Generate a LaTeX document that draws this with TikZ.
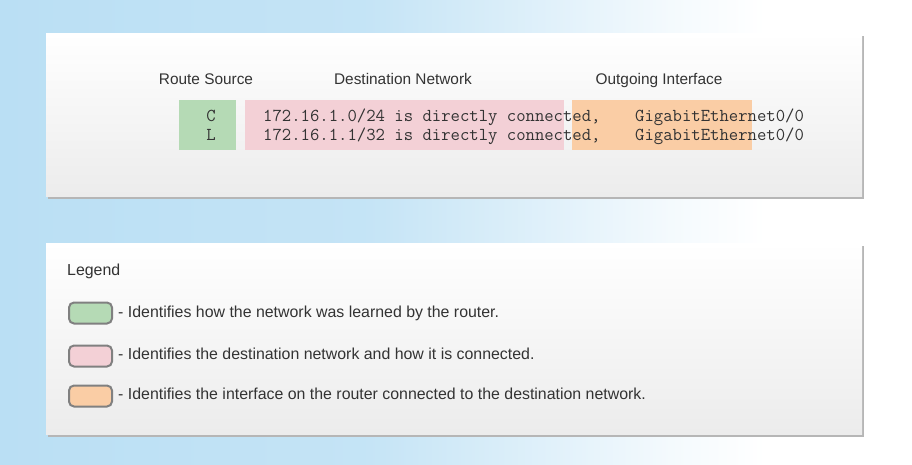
\documentclass[tikz,border=0pt]{standalone}
\usepackage{fontspec}
\setmainfont{Liberation Sans}
\usetikzlibrary{positioning}

\definecolor{srcgreen}{RGB}{181,218,181}
\definecolor{netpink}{RGB}{243,208,214}
\definecolor{ifaceorange}{RGB}{250,205,165}
\definecolor{bgblue}{RGB}{186,223,244}
\definecolor{panelgray}{RGB}{236,236,236}
\definecolor{edgegray}{RGB}{150,150,150}
\definecolor{swatchgray}{RGB}{128,128,128}
\definecolor{txtgray}{RGB}{51,51,51}
\pgfdeclarehorizontalshading{bgshade}{100bp}{color(0bp)=(bgblue); color(25bp)=(bgblue); color(45bp)=(bgblue!85!white); color(55bp)=(bgblue!45!white); color(62bp)=(bgblue!15!white); color(67bp)=(white); color(100bp)=(white)}

\begin{document}
\begin{tikzpicture}[
x=1pt, y=-1pt,
panel/.style={top color=white, bottom color=panelgray},
head/.style={anchor=base, inner sep=0pt, text=txtgray, font=\fontsize{15.4}{18}\selectfont},
code/.style={anchor=base west, inner sep=0pt, text=txtgray, font=\ttfamily\fontsize{18.2}{20}\selectfont},
band/.style={anchor=north west, inner sep=0pt, minimum height=50pt},
swatch/.style={draw=swatchgray, line width=2pt, rounded corners=5pt, minimum width=43pt, minimum height=21pt, inner sep=0pt},
item/.style={anchor=base west, inner sep=0pt, text=txtgray, font=\fontsize{15.9}{18}\selectfont},
]
\useasboundingbox (0,0) rectangle (912,464);
\shade[shading=bgshade] (0,0) rectangle (912,464);

% route table panel
\fill[edgegray!70] (48,36) rectangle (864,199);
\fill[panel] (46,33) rectangle (862,196);
\node[head] (hdrsrc) at (206,84) {Route Source};
\node[head] (hdrnet) at (403,84) {Destination Network};
\node[head] (hdriface) at (659,84) {Outgoing Interface};
\node[band, fill=srcgreen, minimum width=57pt] (srcbox) at (179,100) {};
\node[band, fill=netpink, minimum width=319pt] (netbox) at (245,100) {};
\node[band, fill=ifaceorange, minimum width=180pt] (ifacebox) at (572,100) {};
\node[code, anchor=base] (srcC) at (211,121) {C};
\node[code, anchor=base] (srcL) at (211,140) {L};
\node[code] (net1) at (263,121) {172.16.1.0/24 is directly connected,};
\node[code] (net2) at (263,140) {172.16.1.1/32 is directly connected,};
\node[code] (iface1) at (635,121) {GigabitEthernet0/0};
\node[code] (iface2) at (635,140) {GigabitEthernet0/0};

% legend panel
\fill[edgegray!70] (48,246) rectangle (864,437);
\fill[panel] (46,243) rectangle (862,434);
\node[item] (legend) at (67,275) {Legend};
\node[swatch, fill=srcgreen] (swgreen) at (90.5,313) {};
\node[swatch, fill=netpink] (swpink) at (90.5,356) {};
\node[swatch, fill=ifaceorange] (sworange) at (90.5,396) {};
\node[item] (itemgreen) at (118,317) {- Identifies how the network was learned by the router.};
\node[item] (itempink) at (118,359) {- Identifies the destination network and how it is connected.};
\node[item] (itemorange) at (118,399) {- Identifies the interface on the router connected to the destination network.};
\end{tikzpicture}
\end{document}
